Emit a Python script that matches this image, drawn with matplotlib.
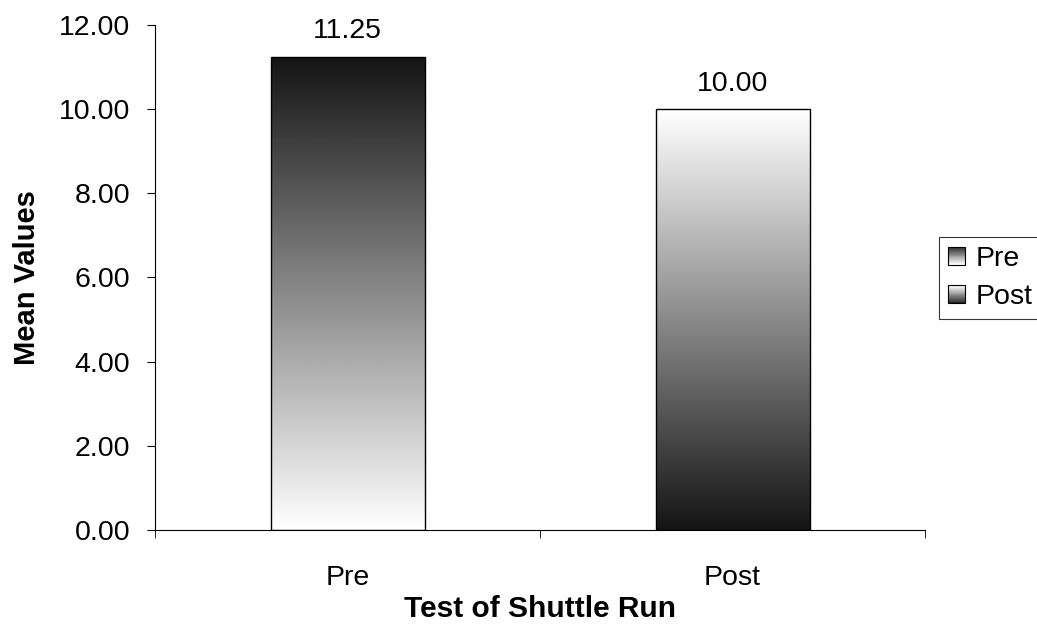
import numpy as np
import matplotlib.pyplot as plt
from matplotlib.patches import Rectangle
from matplotlib.legend_handler import HandlerBase

plt.rcParams['font.family'] = ['Liberation Sans', 'DejaVu Sans']

categories = ['Pre', 'Post']
values = [11.25, 10.00]
labels = ['11.25', '10.00']
# True -> dark at top, False -> dark at bottom
dark_top = [True, False]

fig = plt.figure(figsize=(10.37, 6.38), dpi=100)
ax = fig.add_axes([0.1495, 0.1693, 0.7425, 0.7915])

x = np.arange(len(categories))
width = 0.4
cmap = plt.get_cmap('gray')

for xi, v, lab, dt in zip(x, values, labels, dark_top):
    grad = np.linspace(0.08, 1.0, 256).reshape(-1, 1)
    if dt:
        grad = grad[::-1]  # origin lower: row 0 at bottom
    img = ax.imshow(grad, cmap=cmap, vmin=0, vmax=1, aspect='auto',
                    extent=[xi - width / 2, xi + width / 2, 0, v],
                    origin='lower', zorder=2)
    rect = Rectangle((xi - width / 2, 0), width, v, facecolor='none',
                     edgecolor='black', linewidth=1, zorder=3)
    ax.add_patch(rect)
    img.set_clip_path(rect)
    ax.text(xi, v + 0.44, lab, ha='center', va='baseline', fontsize=20.5,
            clip_on=False)

ax.set_xlim(-0.5, 1.5)
ax.set_ylim(0, 12)
yt = np.arange(0, 12.01, 2)
ax.set_yticks(yt)
ax.set_yticklabels([f'{t:.2f}' for t in yt], fontsize=20.5)
ax.set_xticks(x)
ax.set_xticklabels(categories, fontsize=20.5)
ax.set_xticks([-0.5, 0.5, 1.5], minor=True)
ax.tick_params(axis='x', which='major', length=0, pad=25)
ax.tick_params(axis='x', which='minor', length=6, direction='out')
ax.tick_params(axis='y', length=6, direction='out', pad=12)
ax.spines['top'].set_visible(False)
ax.spines['right'].set_visible(False)
ax.set_ylabel('Mean Values', fontsize=21, fontweight='bold', labelpad=13)
ax.set_xlabel('Test of Shuttle Run', fontsize=21.5, fontweight='bold',
              labelpad=3)


class GradHandler(HandlerBase):
    def __init__(self, dark_at_top):
        super().__init__()
        self.dark_at_top = dark_at_top

    def create_artists(self, legend, orig_handle, xdescent, ydescent,
                       width, height, fontsize, trans):
        n = 20
        s = width
        x0 = -xdescent
        y0 = -ydescent + (height - s) / 2
        arts = []
        for i in range(n):
            f = i / (n - 1)
            g = 0.15 + 0.85 * f if self.dark_at_top else 1.0 - 0.85 * f
            arts.append(Rectangle((x0, y0 + s * i / n), s, s / n,
                                  facecolor=cmap(g), edgecolor='none',
                                  transform=trans))
        arts.append(Rectangle((x0, y0), s, s, facecolor='none',
                              edgecolor='black', linewidth=0.8,
                              transform=trans))
        return arts


h_pre = Rectangle((0, 0), 1, 1)
h_post = Rectangle((0, 0), 1, 1)
leg = fig.legend([h_pre, h_post], categories,
                 handler_map={h_pre: GradHandler(False),
                              h_post: GradHandler(True)},
                 loc='upper left', bbox_to_anchor=(0.9055, 0.6285),
                 fontsize=20.5, frameon=True, fancybox=False,
                 edgecolor='black', handlelength=0.63, handletextpad=0.35,
                 borderpad=0.3, labelspacing=0.45, borderaxespad=0)
leg.get_frame().set_linewidth(0.8)

fig.savefig('out.png', dpi=100)
